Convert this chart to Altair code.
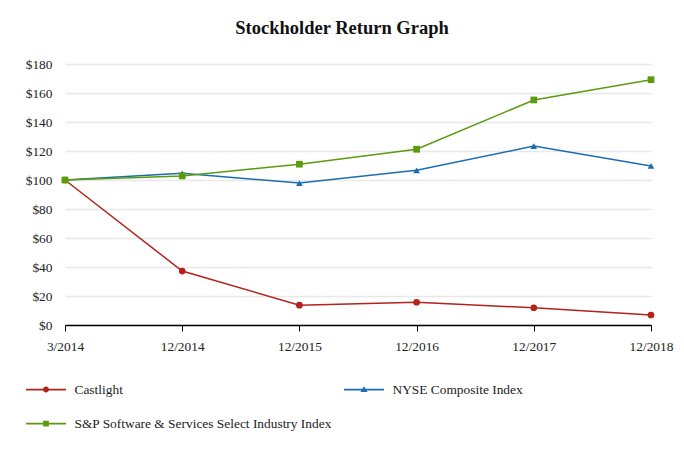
import altair as alt
import pandas as pd

periods = ["3/2014", "12/2014", "12/2015", "12/2016", "12/2017", "12/2018"]
series_names = ["Castlight", "NYSE Composite Index", "S&P Software & Services Select Industry Index"]
castlight = [100, 37.2, 13.7, 15.7, 11.9, 6.9]
nyse = [100, 104.6, 97.9, 106.7, 123.4, 109.7]
sp_software = [100, 102.8, 110.9, 121.2, 155.2, 169.2]
colors = ["#b3221b", "#1b6db3", "#5a9c0c"]
y_ticks = [0, 20, 40, 60, 80, 100, 120, 140, 160, 180]

rows = []
for name, vals in zip(series_names, [castlight, nyse, sp_software]):
    for p, v in zip(periods, vals):
        rows.append({"period": p, "series": name, "value": v})
df = pd.DataFrame(rows)

FONT = "Liberation Serif"
FS = 13.4

# legend symbols: line segment with a marker in the middle (custom SVG paths)
line_part = "M-1.6,-0.07 L1.6,-0.07 L1.6,0.07 L-1.6,0.07 Z "
circle_part = "M0.24,0 A0.24,0.24 0 1,1 -0.24,0 A0.24,0.24 0 1,1 0.24,0 Z"
tri_part = "M0,-0.27 L0.29,0.2 L-0.29,0.2 Z"
sq_part = "M-0.23,-0.23 L0.23,-0.23 L0.23,0.23 L-0.23,0.23 Z"
legend_shapes = [line_part + circle_part, line_part + tri_part, line_part + sq_part]

x_enc = alt.X(
    "period:N",
    sort=periods,
    scale=alt.Scale(type="point", padding=0),
    axis=alt.Axis(
        title=None,
        labelAngle=0,
        labelFont=FONT,
        labelFontSize=FS,
        labelColor="#222222",
        labelPadding=8,
        domainColor="#000000",
        domainWidth=1.5,
        tickColor="#000000",
        tickWidth=1,
        tickSize=6,
        grid=False,
    ),
)
y_enc = alt.Y(
    "value:Q",
    scale=alt.Scale(domain=[0, 180], nice=False),
    axis=alt.Axis(
        title=None,
        values=y_ticks,
        labelExpr="'$' + datum.value",
        labelFont=FONT,
        labelFontSize=FS,
        labelColor="#222222",
        labelPadding=13,
        domain=False,
        ticks=False,
        grid=True,
        gridColor="#e8e8e8",
        gridWidth=1.5,
    ),
)

color_scale = alt.Scale(domain=series_names, range=colors)
base = alt.Chart(df).encode(x=x_enc, y=y_enc)

lines = base.mark_line(strokeWidth=1.5).encode(
    color=alt.Color("series:N", scale=color_scale, legend=None)
)
points = base.mark_point(filled=True, size=45, opacity=1).encode(
    color=alt.Color("series:N", scale=color_scale, legend=None),
    shape=alt.Shape(
        "series:N",
        scale=alt.Scale(domain=series_names, range=["circle", "triangle-up", "square"]),
        legend=None,
    ),
)

leg = alt.Legend(
    title=None,
    orient="none",
    direction="horizontal",
    legendX=-31.5,
    legendY=313,
    columns=2,
    columnPadding=11,
    rowPadding=15,
    symbolSize=625,
    symbolStrokeWidth=0,
    symbolOpacity=1,
    labelOffset=16,
    labelFont=FONT,
    labelFontSize=FS,
    labelColor="#222222",
    labelLimit=400,
)
legend_layer = base.mark_point(filled=True, opacity=0).encode(
    color=alt.Color("series:N", scale=color_scale, legend=leg),
    shape=alt.Shape("series:N", scale=alt.Scale(domain=series_names, range=legend_shapes), legend=leg),
)

chart = (
    alt.layer(lines, points, legend_layer)
    .resolve_scale(color="independent", shape="independent")
    .properties(
        width=586,
        height=261,
        autosize=alt.AutoSizeParams(type="none"),
        padding={"left": 57, "top": 56, "right": 25, "bottom": 120},
        title=alt.Title(
            "Stockholder Return Graph",
            font=FONT,
            fontSize=18.5,
            fontWeight="bold",
            color="#111111",
            anchor="middle",
            dx=-16,
            offset=20,
        ),
    )
    .configure(background="white", font=FONT)
    .configure_view(strokeWidth=0, stroke="transparent")
    .configure_axis(labelFont=FONT)
    .configure_legend(labelFont=FONT)
)

chart.save("out.html", embed_options={"renderer": "svg", "actions": False})
